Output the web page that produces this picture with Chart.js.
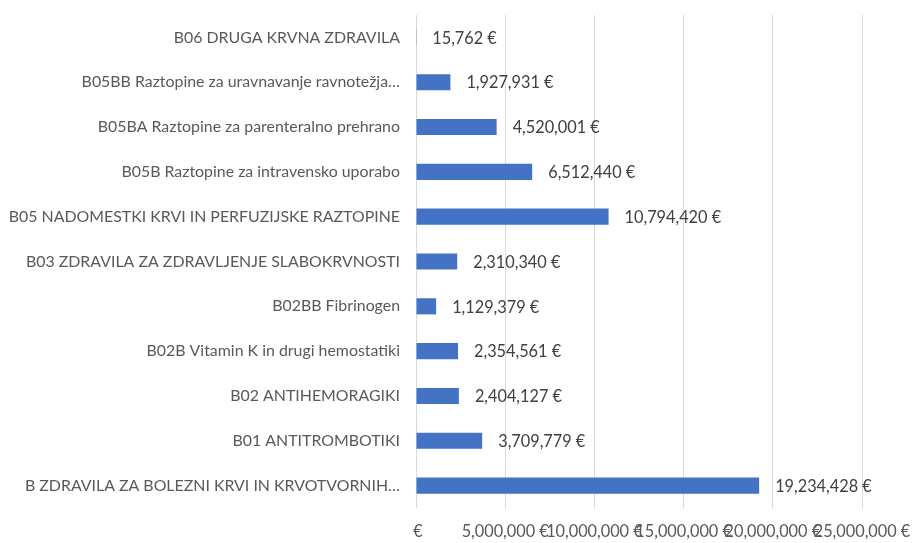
<!DOCTYPE html>
<html>
<head>
<meta charset="utf-8">
<script src="https://cdn.jsdelivr.net/npm/chart.js@4.4.0/dist/chart.umd.min.js"></script>
<style>
  html, body { margin: 0; padding: 0; background: #fff; }
  #wrap { width: 914px; height: 543px; position: relative; }
</style>
</head>
<body>
<div id="wrap"><canvas id="chart"></canvas></div>
<script>
// Categories top to bottom, as in the picture
const categories = [
    'B06 DRUGA KRVNA ZDRAVILA',
    'B05BB Raztopine za uravnavanje ravnotežja…',
    'B05BA Raztopine za parenteralno prehrano',
    'B05B Raztopine za intravensko uporabo',
    'B05 NADOMESTKI KRVI IN PERFUZIJSKE RAZTOPINE',
    'B03 ZDRAVILA ZA ZDRAVLJENJE SLABOKRVNOSTI',
    'B02BB Fibrinogen',
    'B02B Vitamin K in drugi hemostatiki',
    'B02 ANTIHEMORAGIKI',
    'B01 ANTITROMBOTIKI',
    'B ZDRAVILA ZA BOLEZNI KRVI IN KRVOTVORNIH…'
];
const amounts = [15762, 1927931, 4520001, 6512440, 10794420, 2310340, 1129379, 2354561, 2404127, 3709779, 19234428];
const axisTicks = [0, 5000000, 10000000, 15000000, 20000000, 25000000];

const FONT = 'Lato, "Open Sans", sans-serif';

function formatEuro(value) {
    if (value === 0) return ' €';
    return value.toLocaleString('en-US') + ' €';
}

// Draw value labels next to each bar
const valueLabels = {
    id: 'valueLabels',
    afterDatasetsDraw(chart) {
        const ctx = chart.ctx;
        const meta = chart.getDatasetMeta(0);
        ctx.save();
        ctx.font = '16.3px ' + FONT;
        ctx.fillStyle = '#404040';
        ctx.textAlign = 'left';
        ctx.textBaseline = 'middle';
        meta.data.forEach((bar, i) => {
            ctx.fillText(formatEuro(amounts[i]), bar.x + 16, bar.y + 1);
        });
        ctx.restore();
    }
};

const ctx = document.getElementById('chart').getContext('2d');
new Chart(ctx, {
    type: 'bar',
    data: {
        labels: categories,
        datasets: [{
            data: amounts,
            backgroundColor: '#4472C4',
            borderWidth: 0,
            categoryPercentage: 1,
            barPercentage: 0.36
        }]
    },
    options: {
        indexAxis: 'y',
        responsive: true,
        maintainAspectRatio: false,
        animation: false,
        layout: { padding: { top: 15, right: 52, bottom: 0, left: 0 } },
        plugins: {
            legend: { display: false },
            tooltip: { enabled: false }
        },
        scales: {
            x: {
                min: 0,
                max: 25000000,
                afterBuildTicks: function(scale) {
                    scale.ticks = axisTicks.map(v => ({ value: v }));
                },
                afterFit: function(scale) {
                    scale.height = 35;
                    scale.paddingLeft = 0;
                    scale.paddingRight = 0;
                },
                grid: { color: '#d9d9d9', lineWidth: 1, drawTicks: false },
                border: { display: false },
                ticks: {
                    padding: 14,
                    maxRotation: 0,
                    autoSkip: false,
                    color: '#595959',
                    font: { family: FONT, size: 16.3 },
                    callback: function(value) { return formatEuro(value); }
                }
            },
            y: {
                afterFit: function(scale) {
                    scale.width = 416;
                    scale.paddingTop = 0;
                    scale.paddingBottom = 0;
                },
                grid: { display: false, drawTicks: false },
                border: { display: false },
                ticks: {
                    padding: 16,
                    autoSkip: false,
                    color: '#595959',
                    font: { family: FONT, size: 15.9 }
                }
            }
        }
    },
    plugins: [valueLabels]
});
</script>
</body>
</html>
